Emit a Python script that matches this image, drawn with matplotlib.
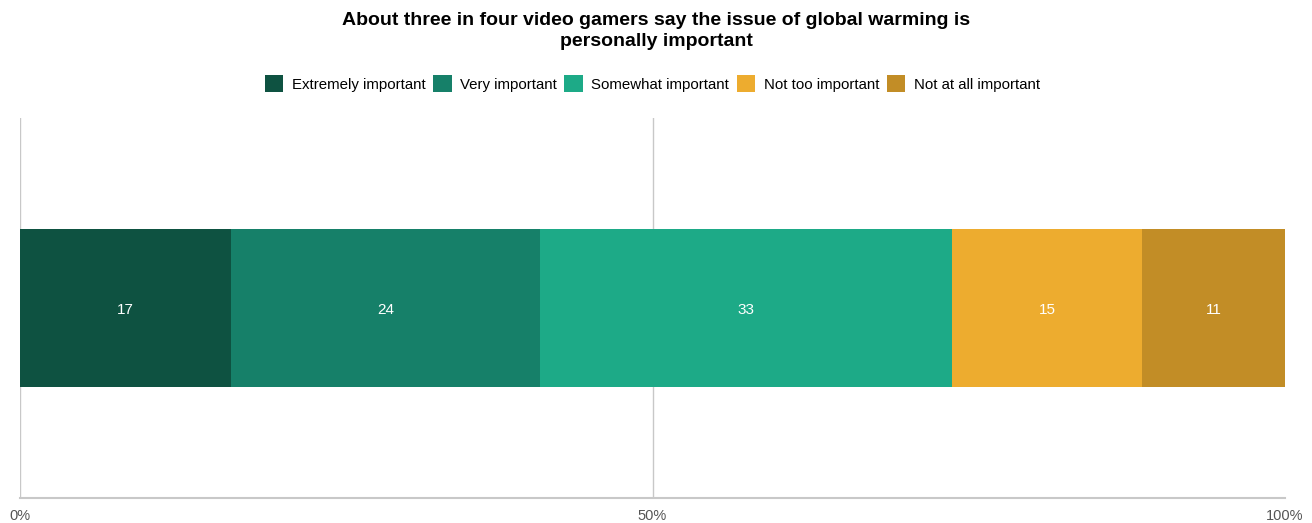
import matplotlib.pyplot as plt
import matplotlib.ticker as mticker

plt.rcParams['font.family'] = ['Liberation Sans', 'DejaVu Sans']

# shares of video gamers (%)
categories = ["Extremely important", "Very important", "Somewhat important",
              "Not too important", "Not at all important"]
values = [16.7, 24.4, 32.6, 15.0, 11.3]
colors = ["#0e5241", "#168069", "#1daa87", "#edac2f", "#c28d26"]
ticks = [0, 50, 100]

fig = plt.figure(figsize=(13.12, 5.23), dpi=100)
ax = fig.add_axes([0.01524, 0.0478, 0.9642, 0.7266])

left = 0
for cat, val, col in zip(categories, values, colors):
    ax.barh(0, val, left=left, height=0.416, color=col, label=cat, zorder=2)
    ax.text(left + val / 2, -0.005, str(round(val)), ha="center", va="center",
            color="white", fontsize=11, zorder=3)
    left += val

# vertical reference lines (none at 100% in the original)
for t in ticks[:-1]:
    ax.axvline(t, color="#c8c8c8", linewidth=1, zorder=1)

ax.set_xlim(0, 100)
ax.set_ylim(-0.5, 0.5)
ax.set_yticks([])
ax.set_xticks(ticks)
ax.xaxis.set_major_formatter(mticker.FuncFormatter(lambda v, p: f"{v:.0f}%"))
ax.tick_params(axis="x", length=0, labelsize=10.5, labelcolor="#555555", pad=8)
for s in ["top", "right", "left"]:
    ax.spines[s].set_visible(False)
ax.spines["bottom"].set_color("#c8c8c8")
ax.spines["bottom"].set_linewidth(1.5)

fig.suptitle("About three in four video gamers say the issue of global warming is\npersonally important",
             fontsize=14, fontweight="bold", y=0.978, linespacing=1.35)
fig.legend(loc="center", bbox_to_anchor=(0.497, 0.84), ncol=5, frameon=False,
           fontsize=10.8, handlelength=1.25, handleheight=1.4, handletextpad=0.55,
           columnspacing=0.5)

fig.savefig("out.png", dpi=100)
